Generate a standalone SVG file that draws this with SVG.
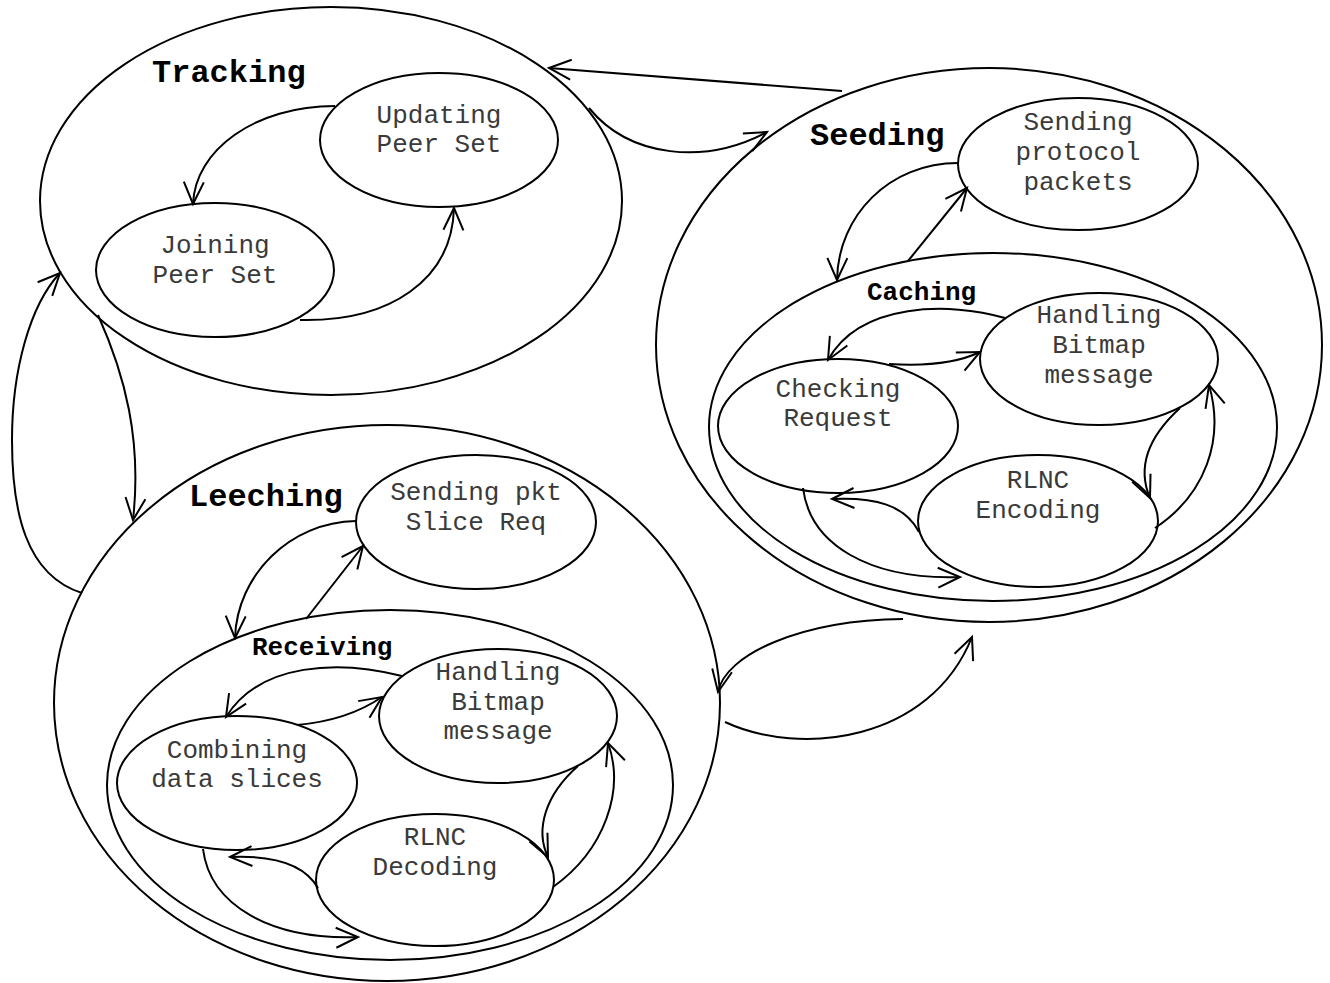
<svg xmlns="http://www.w3.org/2000/svg" width="1330" height="983" viewBox="0 0 1330 983">
<style>
  .st { fill: none; stroke: #000; stroke-width: 2; }
  .cn { fill: none; stroke: #000; stroke-width: 2; marker-end: url(#arr); }
  .lbl { font-family: "Courier New", "Liberation Mono", monospace; font-size: 26px; fill: #3a3a3a; text-anchor: middle; }
  .big { font-family: "Courier New", "Liberation Mono", monospace; font-size: 32px; font-weight: bold; fill: #000; }
  .mid { font-family: "Courier New", "Liberation Mono", monospace; font-size: 26px; font-weight: bold; fill: #000; }
</style>
<defs>
  <marker id="arr" markerUnits="userSpaceOnUse" markerWidth="30" markerHeight="30" refX="0" refY="0" orient="auto" overflow="visible">
    <path d="M -22 -10 L 0 0 L -22 10" fill="none" stroke="#000" stroke-width="2"/>
  </marker>
</defs>
<rect width="1330" height="983" fill="#fff"/>

<g id="tracking">
  <ellipse class="st" cx="331" cy="201" rx="291" ry="194"/>
  <text class="big" x="152" y="82">Tracking</text>
</g>
<g id="updating-peer-set">
  <ellipse class="st" cx="439" cy="140" rx="119" ry="67"/>
  <text class="lbl" x="439" y="123">Updating</text>
  <text class="lbl" x="439" y="152">Peer Set</text>
</g>
<g id="joining-peer-set">
  <ellipse class="st" cx="215" cy="270" rx="119" ry="67"/>
  <text class="lbl" x="215" y="253">Joining</text>
  <text class="lbl" x="215" y="283">Peer Set</text>
</g>

<g id="seeding">
  <ellipse class="st" cx="989" cy="345" rx="333" ry="277"/>
  <text class="big" x="810" y="145">Seeding</text>
</g>
<g id="sending-protocol-packets">
  <ellipse class="st" cx="1078" cy="164" rx="120" ry="66"/>
  <text class="lbl" x="1078" y="130">Sending</text>
  <text class="lbl" x="1078" y="160">protocol</text>
  <text class="lbl" x="1078" y="190">packets</text>
</g>
<g id="caching">
  <ellipse class="st" cx="993" cy="427" rx="284" ry="174"/>
  <text class="mid" x="867" y="300">Caching</text>
</g>
<g id="caching-handling-bitmap">
  <ellipse class="st" cx="1099" cy="359" rx="119" ry="66"/>
  <text class="lbl" x="1099" y="323">Handling</text>
  <text class="lbl" x="1099" y="353">Bitmap</text>
  <text class="lbl" x="1099" y="383">message</text>
</g>
<g id="checking-request">
  <ellipse class="st" cx="838" cy="426" rx="120" ry="67"/>
  <text class="lbl" x="838" y="397">Checking</text>
  <text class="lbl" x="838" y="426">Request</text>
</g>
<g id="rlnc-encoding">
  <ellipse class="st" cx="1038" cy="521" rx="120" ry="66"/>
  <text class="lbl" x="1038" y="488">RLNC</text>
  <text class="lbl" x="1038" y="518">Encoding</text>
</g>

<g id="leeching">
  <ellipse class="st" cx="387" cy="703" rx="333" ry="278"/>
  <text class="big" x="189" y="506">Leeching</text>
</g>
<g id="sending-pkt-slice-req">
  <ellipse class="st" cx="476" cy="522" rx="120" ry="67"/>
  <text class="lbl" x="476" y="500">Sending pkt</text>
  <text class="lbl" x="476" y="530">Slice Req</text>
</g>
<g id="receiving">
  <ellipse class="st" cx="390" cy="785" rx="283" ry="175"/>
  <text class="mid" x="252" y="655">Receiving</text>
</g>
<g id="receiving-handling-bitmap">
  <ellipse class="st" cx="498" cy="716" rx="119" ry="67"/>
  <text class="lbl" x="498" y="680">Handling</text>
  <text class="lbl" x="498" y="710">Bitmap</text>
  <text class="lbl" x="498" y="739">message</text>
</g>
<g id="combining-data-slices">
  <ellipse class="st" cx="237" cy="783" rx="120" ry="67"/>
  <text class="lbl" x="237" y="758">Combining</text>
  <text class="lbl" x="237" y="787">data slices</text>
</g>
<g id="rlnc-decoding">
  <ellipse class="st" cx="435" cy="880" rx="119" ry="66"/>
  <text class="lbl" x="435" y="845">RLNC</text>
  <text class="lbl" x="435" y="875">Decoding</text>
</g>

<g id="connectors">
  <path class="cn" d="M 842 91 L 549 68"/>
  <path class="cn" d="M 589 108 C 630 158, 705 165, 767 132"/>
  <path class="cn" d="M 98 315 C 125 375, 142 440, 133 520"/>
  <path class="cn" d="M 82 593 C 25 575, 12 510, 12 440 C 12 370, 30 305, 60 273"/>
  <path class="cn" d="M 903 619 C 800 620, 725 655, 718 692"/>
  <path class="cn" d="M 725 722 C 800 757, 930 742, 972 637"/>
  <path class="cn" d="M 335 106 C 255 106, 195 150, 193 204"/>
  <path class="cn" d="M 300 320 C 390 322, 452 280, 454 208"/>
  <path class="cn" d="M 958 163 C 890 163, 838 215, 837 280"/>
  <path class="cn" d="M 908 261 L 967 188"/>
  <path class="cn" d="M 1005 318 C 950 302, 860 302, 828 360"/>
  <path class="cn" d="M 889 364 C 920 366, 955 364, 980 352"/>
  <path class="cn" d="M 1180 408 C 1145 440, 1138 470, 1150 498"/>
  <path class="cn" d="M 1155 528 C 1205 495, 1225 440, 1209 385"/>
  <path class="cn" d="M 919 532 C 905 505, 875 497, 832 499"/>
  <path class="cn" d="M 803 488 C 810 545, 870 580, 960 577"/>
  <path class="cn" d="M 356 521 C 290 522, 237 575, 235 638"/>
  <path class="cn" d="M 306 619 L 363 546"/>
  <path class="cn" d="M 402 676 C 340 660, 260 662, 226 717"/>
  <path class="cn" d="M 297 725 C 330 722, 360 712, 382 697"/>
  <path class="cn" d="M 578 766 C 545 795, 535 830, 548 857"/>
  <path class="cn" d="M 553 887 C 605 850, 625 790, 608 743"/>
  <path class="cn" d="M 318 888 C 305 865, 275 855, 230 857"/>
  <path class="cn" d="M 203 849 C 210 905, 270 940, 358 937"/>
</g>
</svg>
